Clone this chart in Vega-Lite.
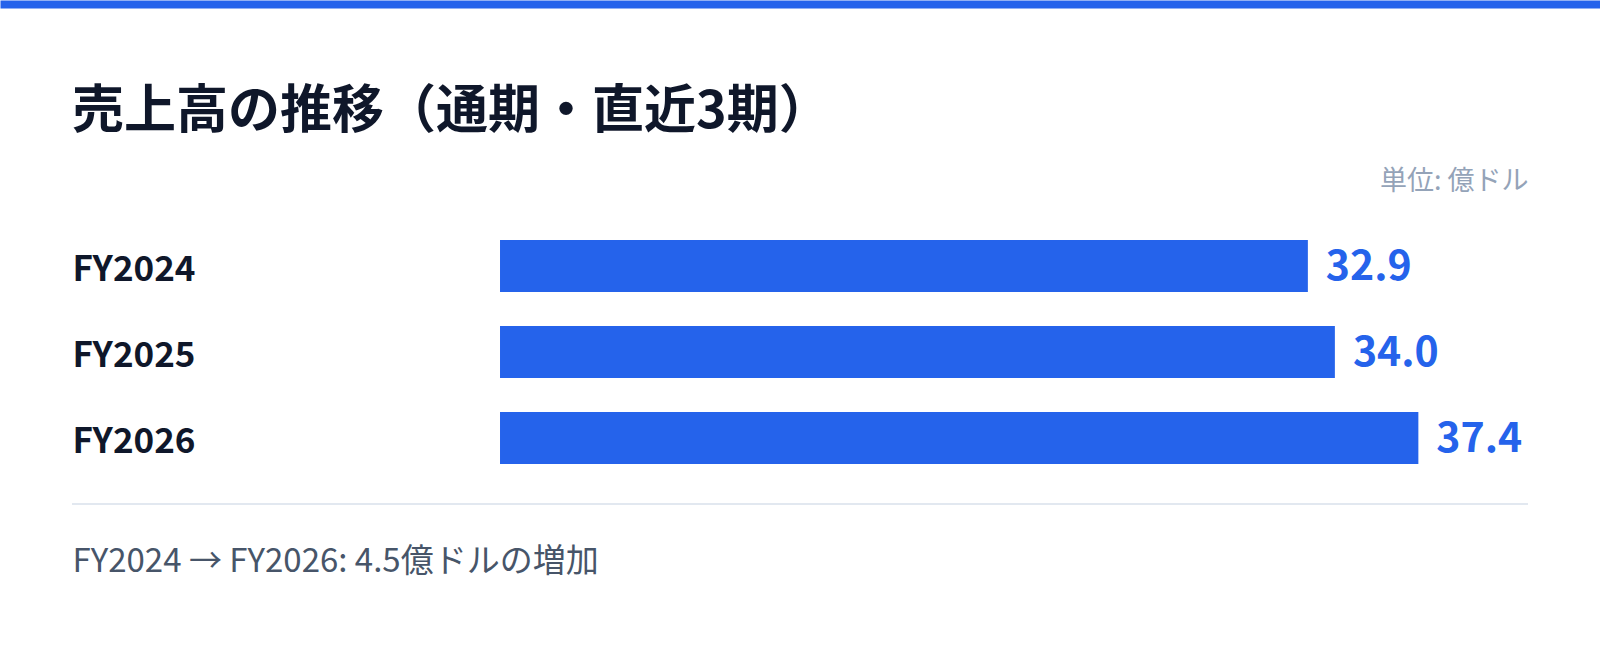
{
  "$schema": "https://vega.github.io/schema/vega-lite/v6.json",
  "autosize": {"type": "none"},
  "width": 1600,
  "height": 304,
  "padding": {"left": 0, "top": 200, "right": 0, "bottom": 143},
  "background": "#ffffff",
  "config": {
    "font": "Noto Sans CJK JP",
    "view": {"stroke": null},
    "axisY": {
      "title": null,
      "domain": false,
      "ticks": false,
      "tickSize": 0,
      "grid": false,
      "labelAlign": "left",
      "labelPadding": -72,
      "labelOffset": 4,
      "labelFontSize": 35,
      "labelFontWeight": 700,
      "labelColor": "#0F172A",
      "labelFont": "Noto Sans CJK JP"
    }
  },
  "title": {
    "text": "売上高の推移（通期・直近3期）",
    "anchor": "start",
    "frame": "group",
    "orient": "top",
    "font": "Noto Sans CJK JP",
    "fontSize": 52,
    "fontWeight": 700,
    "color": "#0F172A",
    "baseline": "middle",
    "offset": 0,
    "dx": 72,
    "dy": 160
  },
  "data": {
    "values": [
      {"period": "FY2024", "sales": 32.9},
      {"period": "FY2025", "sales": 34.0},
      {"period": "FY2026", "sales": 37.4}
    ]
  },
  "encoding": {
    "y": {
      "field": "period",
      "type": "nominal",
      "title": null,
      "scale": {"paddingInner": 0.3953, "paddingOuter": 0.465}
    }
  },
  "layer": [
    {
      "mark": {"type": "bar", "color": "#2563EB"},
      "encoding": {
        "x": {
          "field": "sales",
          "type": "quantitative",
          "scale": {"domain": [-20.363, 44.797], "nice": false, "zero": false},
          "axis": {
            "orient": "top",
            "offset": 196,
            "domain": true,
            "domainColor": "#2563EB",
            "domainWidth": 8,
            "ticks": false,
            "labels": false,
            "grid": false,
            "title": "単位: 億ドル",
            "titleX": 1528,
            "titleY": 177,
            "titleAlign": "right",
            "titleBaseline": "middle",
            "titleFontSize": 27,
            "titleFontWeight": 400,
            "titleColor": "#94A3B8",
            "titleFont": "Noto Sans CJK JP"
          }
        }
      }
    },
    {
      "mark": {
        "type": "text",
        "align": "left",
        "baseline": "middle",
        "dx": 18,
        "dy": 2,
        "fontSize": 41,
        "fontWeight": 700,
        "color": "#2563EB",
        "font": "Noto Sans CJK JP"
      },
      "encoding": {
        "x": {
          "field": "sales",
          "type": "quantitative",
          "axis": {
            "orient": "bottom",
            "domain": false,
            "ticks": false,
            "labels": false,
            "grid": false,
            "title": "FY2024 → FY2026: 4.5億ドルの増加",
            "titleX": 72,
            "titleY": 57,
            "titleAlign": "left",
            "titleBaseline": "middle",
            "titleFontSize": 33,
            "titleFontWeight": 400,
            "titleColor": "#475569",
            "titleFont": "Noto Sans CJK JP"
          }
        },
        "text": {"field": "sales", "type": "quantitative", "format": ".1f"}
      }
    },
    {
      "mark": {"type": "rule", "color": "#E2E8F0", "strokeWidth": 2},
      "encoding": {
        "x": {"datum": -17.43, "type": "quantitative", "axis": null},
        "x2": {"datum": 41.865},
        "y": {"datum": "FY2026", "type": "nominal", "title": null, "bandPosition": 1.769}
      }
    }
  ],
  "resolve": {"axis": {"x": "independent"}}
}
